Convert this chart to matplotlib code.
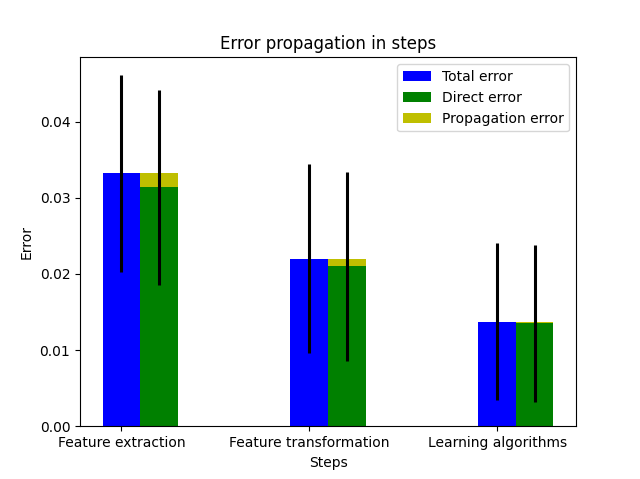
import numpy as np
import matplotlib
matplotlib.use("Agg")
import matplotlib.pyplot as plt

steps = ['Feature extraction', 'Feature transformation', 'Learning algorithms']
total_error = [0.0332, 0.0220, 0.0137]
total_std = [0.0129, 0.0124, 0.0103]
direct_error = [0.0314, 0.0210, 0.0135]
direct_std = [0.0128, 0.0124, 0.0103]
propagation_error = [0.0018, 0.0010, 0.0002]

width = 0.2
x = np.arange(len(steps))

fig, ax = plt.subplots(figsize=(6.4, 4.79), dpi=100)
ax.bar(x, total_error, width, color='b', yerr=total_std,
       error_kw={'elinewidth': 2.2, 'ecolor': 'k'}, label='Total error')
ax.bar(x + width, direct_error, width, color='g', yerr=direct_std,
       error_kw={'elinewidth': 2.2, 'ecolor': 'k'}, label='Direct error')
ax.bar(x + width, propagation_error, width, bottom=direct_error, color='y',
       label='Propagation error')

ax.set_xticks(x)
ax.set_xticklabels(steps)
ax.set_xlabel('Steps')
ax.set_ylabel('Error')
ax.set_title('Error propagation in steps')
ax.legend(loc='upper right')

fig.savefig('out.png')
